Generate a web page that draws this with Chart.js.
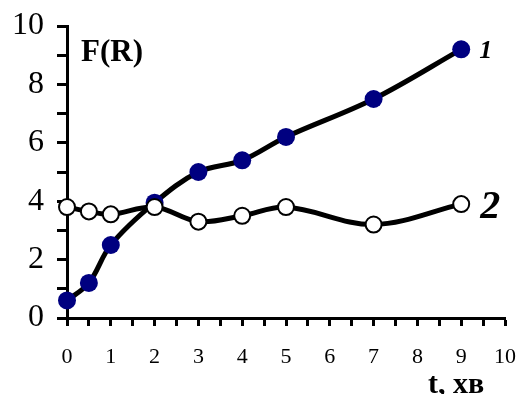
<!DOCTYPE html>
<html lang="uk">
<head>
  <meta charset="UTF-8" />
  <title>F(R) vs t</title>
  <script src="https://cdn.jsdelivr.net/npm/chart.js"></script>
  <style>
    html, body { margin: 0; padding: 0; background: #fff; }
    #wrap { width: 519px; height: 394px; }
  </style>
</head>
<body>
  <div id="wrap"><canvas id="chart" width="519" height="394"></canvas></div>

  <script>
    // time, min
    const tValues = [0, 0.5, 1, 2, 3, 4, 5, 7, 9];
    // curve 1 (filled markers)
    const series1 = [0.6, 1.2, 2.5, 3.95, 5.0, 5.4, 6.2, 7.5, 9.2];
    // curve 2 (open markers)
    const series2 = [3.8, 3.65, 3.55, 3.8, 3.3, 3.5, 3.8, 3.2, 3.9];
    const xTicks = [0, 1, 2, 3, 4, 5, 6, 7, 8, 9, 10];
    const yTicks = [0, 2, 4, 6, 8, 10];

    const toPoints = (ys) => tValues.map((t, i) => ({ x: t, y: ys[i] }));
    const serif = '"Liberation Serif", "Times New Roman", serif';

    // text labels drawn on top of the chart
    const labels = {
      id: 'labels',
      afterDraw(chart) {
        const ctx = chart.ctx;
        const xs = chart.scales.x, ys = chart.scales.y;
        ctx.save();
        ctx.fillStyle = '#000';
        ctx.textBaseline = 'alphabetic';
        ctx.textAlign = 'left';

        ctx.font = 'bold 31px ' + serif;
        ctx.fillText('F(R)', 81, 61);

        ctx.font = 'italic bold 26px ' + serif;
        ctx.fillText('1', xs.getPixelForValue(9) + 18, ys.getPixelForValue(9.2) + 9);

        ctx.font = 'italic bold 40px ' + serif;
        ctx.fillText('2', xs.getPixelForValue(9) + 19, ys.getPixelForValue(3.9) + 14);

        ctx.font = 'bold 30px ' + serif;
        ctx.fillText('t, хв', 428, 393);
        ctx.restore();
      }
    };

    new Chart(document.getElementById('chart'), {
      type: 'scatter',
      data: {
        datasets: [
          {
            data: toPoints(series2),
            showLine: true,
            borderColor: '#000',
            borderWidth: 5,
            tension: 0.35,
            pointRadius: 8,
            pointBackgroundColor: '#fff',
            pointBorderColor: '#000',
            pointBorderWidth: 2,
            clip: false,
            order: 0
          },
          {
            data: toPoints(series1),
            showLine: true,
            borderColor: '#000',
            borderWidth: 5,
            tension: 0.35,
            pointRadius: 9,
            pointBackgroundColor: '#000080',
            pointBorderColor: '#000080',
            pointBorderWidth: 0,
            clip: false,
            order: 1
          }
        ]
      },
      options: {
        responsive: false,
        animation: false,
        layout: { padding: { left: 0, top: 26, right: 14, bottom: 0 } },
        plugins: { legend: { display: false }, tooltip: { enabled: false } },
        scales: {
          x: {
            type: 'linear',
            min: 0,
            max: 10,
            afterBuildTicks(axis) {
              const t = [];
              for (let v = 0; v <= 10; v += 0.5) t.push({ value: v });
              axis.ticks = t;
            },
            afterFit(axis) {
              axis.height = 76;
              axis.paddingLeft = 0;
              axis.paddingRight = 0;
            },
            border: { display: true, color: '#000', width: 3 },
            grid: {
              display: true,
              drawOnChartArea: false,
              drawTicks: true,
              tickLength: 8,
              tickWidth: 3,
              color: '#000'
            },
            ticks: {
              autoSkip: false,
              maxRotation: 0,
              padding: 18,
              color: '#000',
              font: { family: serif, size: 22 },
              callback: (v) => xTicks.includes(v) ? String(v) : ''
            }
          },
          y: {
            min: 0,
            max: 10,
            afterBuildTicks(axis) {
              const t = [];
              for (let v = 0; v <= 10; v += 1) t.push({ value: v });
              axis.ticks = t;
            },
            afterFit(axis) {
              axis.width = 67;
              axis.paddingTop = 0;
              axis.paddingBottom = 0;
            },
            border: { display: true, color: '#000', width: 3 },
            grid: {
              display: true,
              drawOnChartArea: false,
              drawTicks: true,
              tickLength: 10,
              tickWidth: 3,
              color: '#000'
            },
            ticks: {
              autoSkip: false,
              padding: 13,
              color: '#000',
              font: { family: serif, size: 32 },
              callback: (v) => yTicks.includes(v) ? String(v) : ''
            }
          }
        }
      },
      plugins: [labels]
    });
  </script>
</body>
</html>
